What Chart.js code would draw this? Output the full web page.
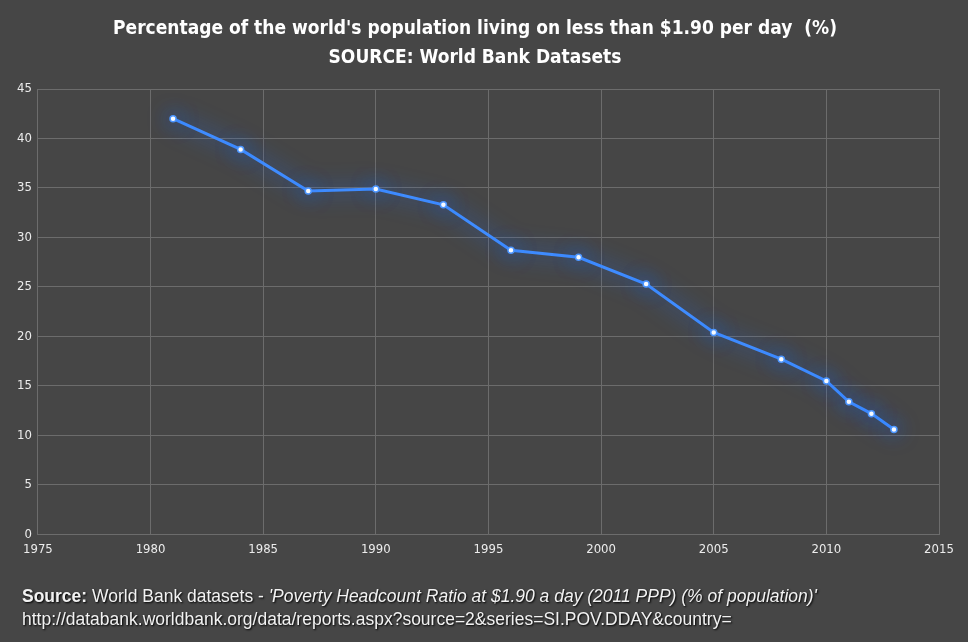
<!DOCTYPE html>
<html>
<head>
<meta charset="utf-8">
<script src="https://cdn.jsdelivr.net/npm/chart.js@4/dist/chart.umd.min.js"></script>
<style>
  html, body { margin: 0; padding: 0; background: #464646; }
  #wrap { position: relative; width: 968px; height: 642px; }
  #footer {
    position: absolute; left: 22px; top: 585px;
    color: #f2f2f2; font-family: 'Liberation Sans', Arial, sans-serif;
    font-size: 17.5px; line-height: 23px;
    text-shadow: 1px 1px 2px #000;
  }
</style>
</head>
<body>
<div id="wrap">
  <canvas id="myChart" width="968" height="642"></canvas>
  <div id="footer">
    <b>Source:</b> World Bank datasets - <i>'Poverty Headcount Ratio at $1.90 a day (2011 PPP) (% of population)'</i><br>
    http://databank.worldbank.org/data/reports.aspx?source=2&amp;series=SI.POV.DDAY&amp;country=
  </div>
</div>
<script>
'use strict';
// survey years and % of world population under $1.90/day
var years = [1981, 1984, 1987, 1990, 1993, 1996, 1999, 2002, 2005, 2008, 2010, 2011, 2012, 2013];
var povertyShare = [42.0, 38.9, 34.7, 34.9, 33.3, 28.7, 28.0, 25.3, 20.4, 17.7, 15.5, 13.4, 12.2, 10.6];
var titleLines = ["Percentage of the world's population living on less than $1.90 per day  (%)", 'SOURCE: World Bank Datasets'];

var condensed = "'Liberation Sans Narrow', 'DejaVu Sans Condensed', sans-serif";
var gridColor = '#6c6c6c';

/**
 * Adds a blue glow under the line
 */
var glowPlugin = {
    id: 'glow',
    beforeDatasetDraw: function(chart) {
        var ctx = chart.ctx;
        ctx.save();
        ctx.shadowColor = 'rgba(30, 110, 255, 1)';
        ctx.shadowBlur = 22;
    },
    afterDatasetDraw: function(chart) {
        chart.ctx.restore();
    }
};

var points = years.map(function(y, i) {
    return { x: y, y: povertyShare[i] };
});

Chart.defaults.font.family = condensed;
Chart.defaults.color = '#ececec';

var ctx = document.getElementById('myChart');
var myChart = new Chart(ctx, {
    type: 'line',
    data: {
        datasets: [{
            data: points,
            borderColor: '#3f8cff',
            borderWidth: 3,
            pointRadius: 3,
            pointBorderWidth: 1.5,
            pointBackgroundColor: '#ffffff',
            pointBorderColor: '#4d96ff',
            tension: 0
        }]
    },
    plugins: [glowPlugin],
    options: {
        responsive: false,
        animation: false,
        layout: { padding: { left: 11, right: 29, top: 8, bottom: 78 } },
        plugins: {
            legend: { display: false },
            tooltip: { enabled: false },
            title: {
                display: true,
                text: titleLines,
                color: '#ffffff',
                font: { size: 19, weight: 'bold', family: condensed, lineHeight: 1.5 },
                padding: { top: 7, bottom: 17 }
            }
        },
        scales: {
            x: {
                type: 'linear',
                min: 1975,
                max: 2015,
                ticks: {
                    stepSize: 5,
                    font: { size: 13 },
                    padding: 7,
                    callback: function(v) { return String(v); }
                },
                grid: { color: gridColor, drawTicks: false },
                border: { color: gridColor }
            },
            y: {
                min: 0,
                max: 45,
                ticks: { stepSize: 5, font: { size: 13 }, padding: 6 },
                grid: { color: gridColor, drawTicks: false },
                border: { color: gridColor }
            }
        }
    }
});
</script>
</body>
</html>
